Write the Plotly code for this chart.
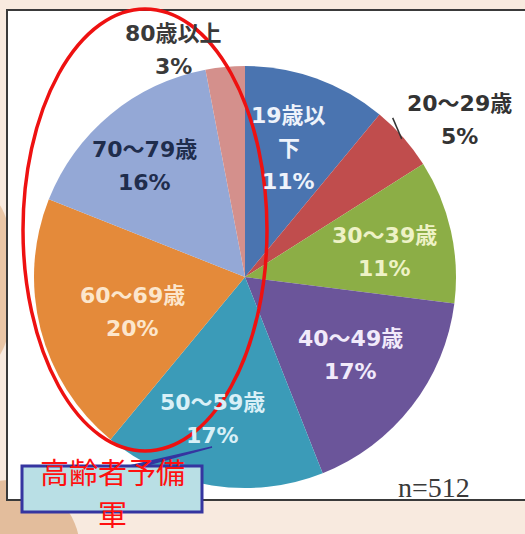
import math
import plotly.graph_objects as go

# Age distribution of respondents (n=512)
groups = ["19歳以下", "20～29歳", "30～39歳", "40～49歳",
          "50～59歳", "60～69歳", "70～79歳", "80歳以上"]
shares = [11, 5, 11, 17, 17, 20, 16, 3]
sample_label = "n=512"
callout_lines = ["高齢者予備", "軍"]

# Slice fills and label styling
slice_colors = ["#4a74b0", "#c04d4d", "#8cae46", "#6b559a",
                "#3b9bb8", "#e48a3a", "#94a8d6", "#d4908c"]
label_colors = ["#eef3fb", "#333333", "#eef2c6", "#f1eafa",
                "#d9f0f7", "#fce6cc", "#1f2d4d", "#3a3a3a"]
label_wrap = {"19歳以下": "19歳以<br>下"}
label_radius = [0.645, 1.26, 0.67, 0.62, 0.69, 0.56, 0.71, 1.13]
label_shift_deg = [-1.0, 5.3, 2.6, -1.2, 4.0, -3.0, -2.7, -12.1]

W, H = 525, 534
CX, CY, R = 245, 277, 211          # pie centre and radius in pixels
LINE_GAP = 33                        # spacing between label lines in pixels


def px(x):
    return x / W


def py(y):
    return 1 - y / H


fig = go.Figure(go.Pie(
    labels=groups,
    values=shares,
    sort=False,
    direction="clockwise",
    rotation=0,
    marker=dict(colors=slice_colors, line=dict(width=0)),
    textinfo="none",
    hoverinfo="label+percent",
    showlegend=False,
    domain=dict(x=[px(CX - R), px(CX + R)], y=[py(CY + R), py(CY - R)]),
))

annotations = []
shapes = []

# Background blobs outside the chart frame
shapes.append(dict(type="circle", xref="paper", yref="paper", layer="below",
                   x0=px(-60), x1=px(80), y0=py(620), y1=py(480),
                   fillcolor="#dcae85", line=dict(width=0), opacity=0.75))
shapes.append(dict(type="circle", xref="paper", yref="paper", layer="below",
                   x0=px(-30), x1=px(14), y0=py(360), y1=py(200),
                   fillcolor="#e6bd97", line=dict(width=0), opacity=0.8))

# White chart frame
shapes.append(dict(type="rect", xref="paper", yref="paper", layer="below",
                   x0=px(7), x1=px(540), y0=py(500), y1=py(10),
                   fillcolor="white", line=dict(color="#3a3a3a", width=2)))

total = sum(shares)
cum = 0
for i, (g, v) in enumerate(zip(groups, shares)):
    mid = 360 * (cum + v / 2) / total
    cum += v
    theta = math.radians(mid + label_shift_deg[i])
    r = R * label_radius[i]
    x = CX + r * math.sin(theta)
    y = CY - r * math.cos(theta)
    pct = f"{round(100 * v / total)}%"
    lines = label_wrap.get(g, g).split("<br>") + [pct]
    n = len(lines)
    for k, line in enumerate(lines):
        annotations.append(dict(
            x=px(x), y=py(y), xref="paper", yref="paper",
            text=f"<b>{line}</b>", showarrow=False,
            xanchor="center", yanchor="middle",
            yshift=((n - 1) / 2 - k) * LINE_GAP,
            font=dict(family="DejaVu Sans, Noto Sans CJK JP", size=22,
                      color=label_colors[i]),
        ))
    if label_radius[i] > 1.2:
        # short leader line for the small outside-labelled slice
        a = math.radians(mid)
        sx = CX + R * 0.99 * math.sin(a)
        sy = CY - R * 0.99 * math.cos(a)
        shapes.append(dict(type="line", xref="paper", yref="paper",
                           x0=px(sx), y0=py(sy), x1=px(sx - 9), y1=py(sy - 21),
                           line=dict(color="#333333", width=1.5)))

# Sample size note
annotations.append(dict(
    x=px(434), y=py(487), xref="paper", yref="paper", text=sample_label,
    showarrow=False, xanchor="center", yanchor="middle",
    font=dict(family="Liberation Serif", size=28, color="#3a3a3a"),
))

# Red ellipse around the older groups
shapes.append(dict(type="circle", xref="paper", yref="paper", layer="above",
                   x0=px(23), x1=px(267), y0=py(451), y1=py(9),
                   line=dict(color="#ee1111", width=3.5)))

# Callout box with pointer
shapes.append(dict(type="path", xref="paper", yref="paper", layer="above",
                   path=f"M {px(125)},{py(467)} L {px(212)},{py(447)} "
                        f"L {px(140)},{py(467)} Z",
                   fillcolor="#3535a0", line=dict(color="#3535a0", width=1.5)))
shapes.append(dict(type="rect", xref="paper", yref="paper", layer="above",
                   x0=px(22), x1=px(202), y0=py(512), y1=py(466),
                   fillcolor="#b9dfe5", line=dict(color="#3535a0", width=3)))
for k, line in enumerate(callout_lines):
    annotations.append(dict(
        x=px(112), y=py(471 + 42 * k), xref="paper", yref="paper", text=line,
        showarrow=False, xanchor="center", yanchor="middle",
        font=dict(family="Noto Sans CJK JP", size=29, color="#ff1010"),
    ))

fig.update_layout(
    width=W, height=H,
    margin=dict(l=0, r=0, t=0, b=0),
    paper_bgcolor="#f8eadf",
    plot_bgcolor="rgba(0,0,0,0)",
    shapes=shapes,
    annotations=annotations,
)

fig.write_html("out.html")
